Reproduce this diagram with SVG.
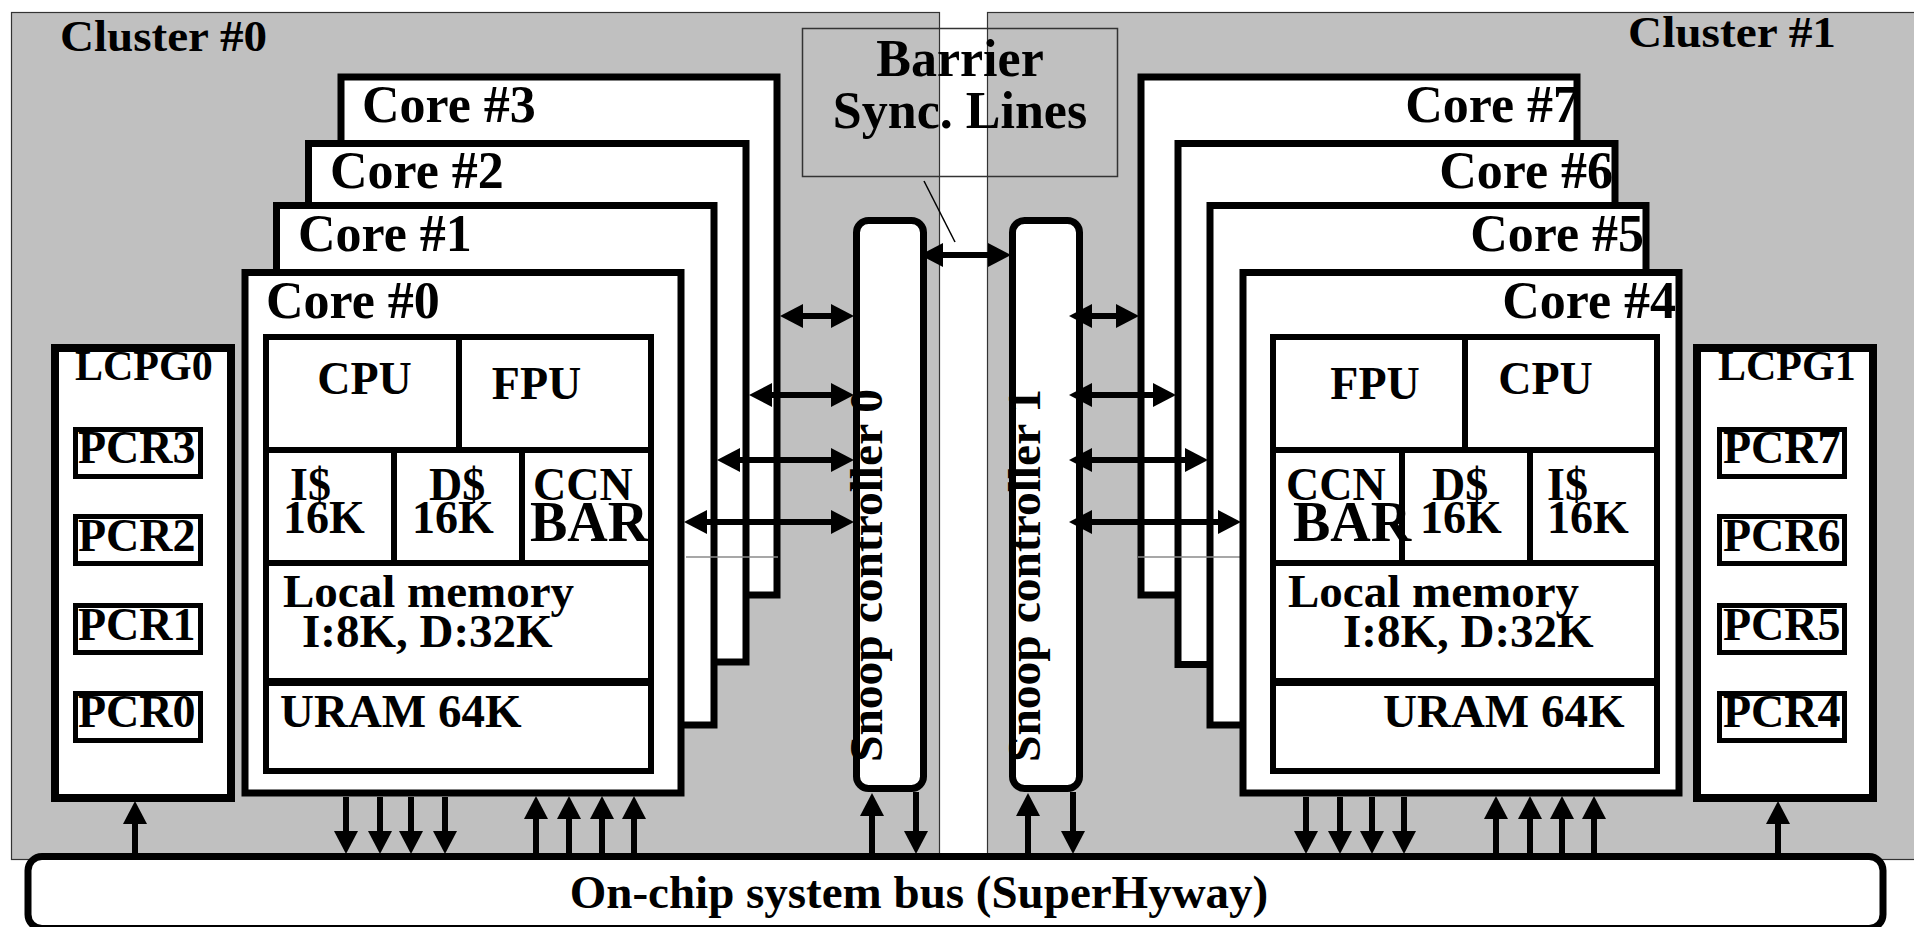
<svg xmlns="http://www.w3.org/2000/svg" width="1914" height="927" viewBox="0 0 1914 927">
<style>
.cl{fill:#c0c0c0;stroke:#333;stroke-width:1.2}
.core{fill:#fff;stroke:#000;stroke-width:7}
.box{fill:#fff;stroke:#000;stroke-width:8}
.pcr{fill:#fff;stroke:#000;stroke-width:5}
.in{fill:none;stroke:#000;stroke-width:6}
.sc{fill:#fff;stroke:#000;stroke-width:7}
.t{font-family:"Liberation Serif","Times New Roman",serif;font-weight:bold;fill:#000}
.f52{font-size:52px}
.f46{font-size:46px}
.f47{font-size:47px}
.mid{text-anchor:middle}
.end{text-anchor:end}
.arr{stroke:#000;stroke-width:6;fill:none}
.da{marker-end:url(#ah)}
.dd{marker-start:url(#ah);marker-end:url(#ah)}
</style>
<defs>
<marker id="ah" markerUnits="userSpaceOnUse" viewBox="0 0 24 26" markerWidth="24" markerHeight="26" refX="10" refY="13" orient="auto-start-reverse">
<path d="M0,1 L23,13 L0,25 z" fill="#000"/>
</marker>
</defs>

<g id="cluster0">
<rect class="cl" x="11.5" y="12.5" width="928" height="847"/>
<text class="t" x="60" y="51" style="font-size:45px" textLength="207" lengthAdjust="spacingAndGlyphs">Cluster #0</text>
</g>
<g id="cluster1">
<rect class="cl" x="987.5" y="12.5" width="940" height="847"/>
<text class="t" x="1628" y="47" style="font-size:45px" textLength="208" lengthAdjust="spacingAndGlyphs">Cluster #1</text>
</g>

<g id="barrier">
<rect x="802.5" y="28.5" width="315" height="148" fill="none" stroke="#333" stroke-width="1.5"/>
<text class="t f52 mid" x="960" y="76">Barrier</text>
<text class="t f52 mid" x="960" y="128">Sync. Lines</text>
</g>

<g id="core3">
<rect class="core" x="341" y="77" width="436" height="518"/>
<text class="t f52" x="362" y="122">Core #3</text>
</g>
<g id="core2">
<rect class="core" x="308.5" y="143.5" width="437.5" height="518.5"/>
<text class="t f52" x="330" y="188">Core #2</text>
</g>
<g id="core1">
<rect class="core" x="276.5" y="205.5" width="437.5" height="519.5"/>
<text class="t f52" x="298" y="251">Core #1</text>
</g>
<line x1="686" y1="557" x2="778" y2="557" stroke="#8a8a8a" stroke-width="1.5"/>
<g id="core0">
<rect class="core" x="245" y="272.5" width="436" height="520.5"/>
<text class="t f52" x="266" y="318">Core #0</text>
<rect class="in" x="266" y="337" width="385" height="434"/>
<line class="in" x1="266" y1="450" x2="651" y2="450"/>
<line class="in" x1="266" y1="563" x2="651" y2="563"/>
<line class="in" x1="266" y1="682" x2="651" y2="682" style="stroke-width:8"/>
<line class="in" x1="459" y1="337" x2="459" y2="450"/>
<line class="in" x1="394" y1="450" x2="394" y2="563"/>
<line class="in" x1="522" y1="450" x2="522" y2="563"/>
<text class="t f46 mid" x="364.5" y="394">CPU</text>
<text class="t f46 mid" x="536.5" y="399">FPU</text>
<text class="t f46" x="290" y="500">I$</text>
<text class="t f46" x="283" y="533">16K</text>
<text class="t f46" x="429" y="500">D$</text>
<text class="t f46" x="412" y="533">16K</text>
<text class="t f46" x="533" y="500">CCN</text>
<text class="t" x="530" y="541" style="font-size:56px">BAR</text>
<text class="t f47" x="283" y="607">Local memory</text>
<text class="t f47" x="302" y="647">I:8K, D:32K</text>
<text class="t f47" x="280" y="727">URAM 64K</text>
</g>

<g id="core7">
<rect class="core" x="1141" y="77" width="436" height="518"/>
<text class="t f52 end" x="1579" y="122">Core #7</text>
</g>
<g id="core6">
<rect class="core" x="1178" y="143.5" width="437" height="521"/>
<text class="t f52 end" x="1613" y="188">Core #6</text>
</g>
<g id="core5">
<rect class="core" x="1210" y="205.5" width="436" height="519.5"/>
<text class="t f52 end" x="1644" y="251">Core #5</text>
</g>
<line x1="1138" y1="557" x2="1240" y2="557" stroke="#8a8a8a" stroke-width="1.5"/>
<g id="core4">
<rect class="core" x="1243" y="272.5" width="436" height="520.5"/>
<text class="t f52 end" x="1676" y="318">Core #4</text>
<rect class="in" x="1273" y="337" width="384" height="434"/>
<line class="in" x1="1273" y1="450" x2="1657" y2="450"/>
<line class="in" x1="1273" y1="563" x2="1657" y2="563"/>
<line class="in" x1="1273" y1="682" x2="1657" y2="682" style="stroke-width:8"/>
<line class="in" x1="1465" y1="337" x2="1465" y2="450"/>
<line class="in" x1="1402" y1="450" x2="1402" y2="563"/>
<line class="in" x1="1530" y1="450" x2="1530" y2="563"/>
<text class="t f46 mid" x="1375" y="399">FPU</text>
<text class="t f46 mid" x="1545.5" y="394">CPU</text>
<text class="t f46" x="1286" y="500">CCN</text>
<text class="t" x="1293" y="541" style="font-size:56px">BAR</text>
<text class="t f46" x="1432" y="500">D$</text>
<text class="t f46" x="1420" y="533">16K</text>
<text class="t f46" x="1547" y="500">I$</text>
<text class="t f46" x="1547" y="533">16K</text>
<text class="t f47" x="1288" y="607">Local memory</text>
<text class="t f47" x="1343" y="647">I:8K, D:32K</text>
<text class="t f47" x="1383" y="727">URAM 64K</text>
</g>

<g id="lcpg0">
<rect class="box" x="55" y="348" width="176" height="450"/>
<text class="t" x="75" y="380" style="font-size:42px">LCPG0</text>
<rect class="pcr" x="75.5" y="429.5" width="125" height="47"/>
<text class="t f46" x="78" y="463">PCR3</text>
<rect class="pcr" x="75.5" y="516.5" width="125" height="47"/>
<text class="t f46" x="78" y="551">PCR2</text>
<rect class="pcr" x="75.5" y="605.5" width="125" height="47"/>
<text class="t f46" x="78" y="640">PCR1</text>
<rect class="pcr" x="75.5" y="693.5" width="125" height="47"/>
<text class="t f46" x="78" y="727">PCR0</text>
</g>
<g id="lcpg1">
<rect class="box" x="1697" y="348" width="176" height="450"/>
<text class="t" x="1718" y="380" style="font-size:42px">LCPG1</text>
<rect class="pcr" x="1719.5" y="429.5" width="125" height="47"/>
<text class="t f46" x="1723" y="463">PCR7</text>
<rect class="pcr" x="1719.5" y="516.5" width="125" height="47"/>
<text class="t f46" x="1723" y="551">PCR6</text>
<rect class="pcr" x="1719.5" y="605.5" width="125" height="47"/>
<text class="t f46" x="1723" y="640">PCR5</text>
<rect class="pcr" x="1719.5" y="693.5" width="125" height="47"/>
<text class="t f46" x="1723" y="727">PCR4</text>
</g>

<g id="snoop0">
<rect class="sc" x="856.5" y="220.5" width="67" height="568" rx="12"/>
<text class="t f46 mid" transform="translate(882,575.5) rotate(-90)" textLength="373" lengthAdjust="spacingAndGlyphs">Snoop controller 0</text>
</g>
<g id="snoop1">
<rect class="sc" x="1012.5" y="220.5" width="67" height="568" rx="12"/>
<text class="t f46 mid" transform="translate(1040,575.5) rotate(-90)" textLength="373" lengthAdjust="spacingAndGlyphs">Snoop controller 1</text>
</g>

<g id="connectors">
<line x1="924" y1="181" x2="955" y2="242" stroke="#000" stroke-width="1.5"/>
<line class="arr dd" x1="933" y1="255" x2="998" y2="255"/>
<line class="arr dd" x1="793" y1="316" x2="841" y2="316"/>
<line class="arr dd" x1="762" y1="395" x2="841" y2="395"/>
<line class="arr dd" x1="730" y1="460" x2="841" y2="460"/>
<line class="arr dd" x1="697" y1="522" x2="841" y2="522"/>
<line class="arr dd" x1="1082" y1="316" x2="1126" y2="316"/>
<line class="arr dd" x1="1082" y1="395" x2="1163" y2="395"/>
<line class="arr dd" x1="1082" y1="460" x2="1195" y2="460"/>
<line class="arr dd" x1="1082" y1="522" x2="1228" y2="522"/>
<line class="arr da" x1="135" y1="855" x2="135" y2="814"/>
<line class="arr da" x1="346" y1="797" x2="346" y2="841"/>
<line class="arr da" x1="380" y1="797" x2="380" y2="841"/>
<line class="arr da" x1="411" y1="797" x2="411" y2="841"/>
<line class="arr da" x1="445" y1="797" x2="445" y2="841"/>
<line class="arr da" x1="536" y1="855" x2="536" y2="809"/>
<line class="arr da" x1="569" y1="855" x2="569" y2="809"/>
<line class="arr da" x1="602" y1="855" x2="602" y2="809"/>
<line class="arr da" x1="634" y1="855" x2="634" y2="809"/>
<line class="arr da" x1="872" y1="855" x2="872" y2="806"/>
<line class="arr da" x1="916" y1="792" x2="916" y2="841"/>
<line class="arr da" x1="1028" y1="855" x2="1028" y2="806"/>
<line class="arr da" x1="1073" y1="792" x2="1073" y2="841"/>
<line class="arr da" x1="1306" y1="797" x2="1306" y2="841"/>
<line class="arr da" x1="1340" y1="797" x2="1340" y2="841"/>
<line class="arr da" x1="1372" y1="797" x2="1372" y2="841"/>
<line class="arr da" x1="1404" y1="797" x2="1404" y2="841"/>
<line class="arr da" x1="1496" y1="855" x2="1496" y2="809"/>
<line class="arr da" x1="1530" y1="855" x2="1530" y2="809"/>
<line class="arr da" x1="1562" y1="855" x2="1562" y2="809"/>
<line class="arr da" x1="1594" y1="855" x2="1594" y2="809"/>
<line class="arr da" x1="1778" y1="855" x2="1778" y2="814"/>
</g>

<g id="bus">
<rect x="28" y="856.5" width="1855" height="72" rx="14" fill="#fff" stroke="#000" stroke-width="7"/>
<text class="t f47 mid" x="919" y="908">On-chip system bus (SuperHyway)</text>
</g>
</svg>
